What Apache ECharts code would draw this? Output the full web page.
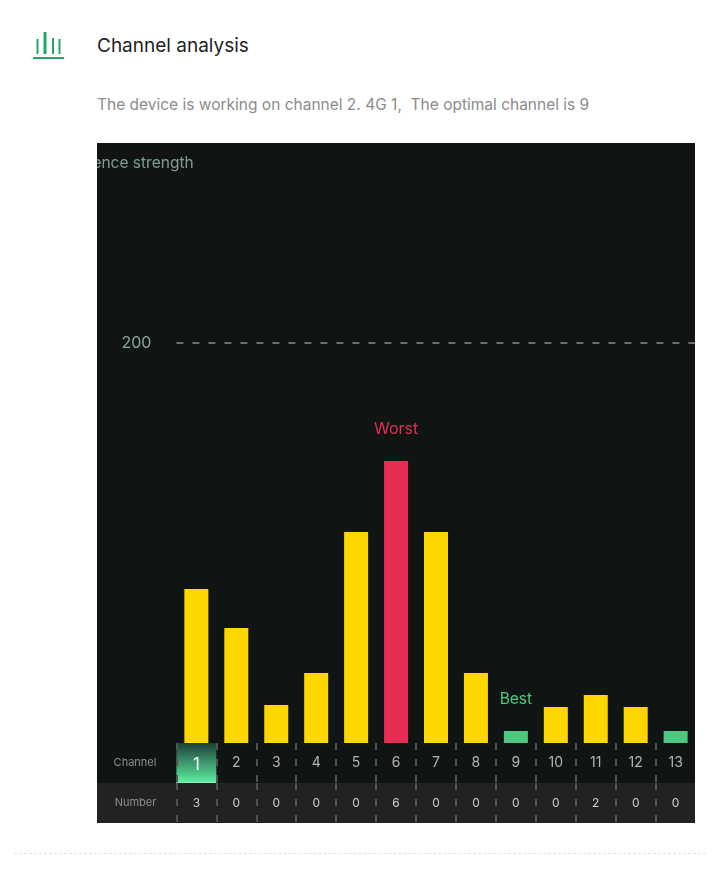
<!DOCTYPE html>
<html>
<head>
<meta charset="utf-8">
<title>Channel analysis</title>
<script src="https://cdn.jsdelivr.net/npm/echarts@6/dist/echarts.min.js"></script>
<style>
  html, body { margin: 0; background: #fff; }
  body { position: relative; width: 720px; height: 872px; overflow: hidden; font-family: Inter, sans-serif; }
  .icon { position: absolute; left: 33px; top: 32px; }
  .title { position: absolute; left: 97px; top: 34px; font-size: 19px; line-height: 24px; color: #222; white-space: pre; }
  .desc { position: absolute; left: 97px; top: 95px; font-size: 15.5px; line-height: 20px; color: #8c8c8c; white-space: pre; }
  #chart { position: absolute; left: 97px; top: 143px; width: 598px; height: 680px; }
  .rule { position: absolute; left: 14px; top: 853px; width: 692px; border-top: 1px dashed #e2e2e2; }
</style>
</head>
<body>
<svg class="icon" width="32" height="28" viewBox="0 0 32 28">
  <g fill="#23a566">
    <rect x="3.5" y="7" width="2" height="15"/>
    <rect x="10.5" y="0" width="3" height="22"/>
    <rect x="19" y="6" width="2" height="16"/>
    <rect x="25.5" y="7" width="2" height="15"/>
    <rect x="0" y="25" width="31" height="2"/>
  </g>
</svg>
<div class="title">Channel analysis</div>
<div class="desc">The device is working on channel 2. 4G 1,  The optimal channel is 9</div>
<div id="chart"></div>
<div class="rule"></div>
<script>
const channels = ['1', '2', '3', '4', '5', '6', '7', '8', '9', '10', '11', '12', '13']
const strength = [77, 57.5, 19, 35, 105.5, 141, 105.5, 35, 6, 18, 24, 18, 6]
const numbers = ['3', '0', '0', '0', '0', '6', '0', '0', '0', '0', '2', '0', '0']
const worstChannels = ['6']
const bestChannels = ['9', '13']
const worstLabelChannel = '6'
const bestLabelChannel = '9'
const currentChannel = '1'

const fontFamily = 'Inter, sans-serif'
const tickStyle = { show: true, inside: true, length: 40, lineStyle: { color: '#505351', width: 2, type: [7, 9] } }

const barData = channels.map((name, i) => {
  let color = '#FFD700'
  if (worstChannels.includes(name)) color = '#E62E54'
  if (bestChannels.includes(name)) color = '#4CC97E'
  const item = { value: strength[i], itemStyle: { color } }
  if (name === worstLabelChannel) {
    item.label = { show: true, position: 'top', distance: 24, formatter: 'Worst', color: '#E62E54', fontSize: 16, fontFamily }
  }
  if (name === bestLabelChannel) {
    item.label = { show: true, position: 'top', distance: 24, formatter: 'Best', color: '#4CC97E', fontSize: 15.5, fontFamily }
  }
  return item
})

const channelAxisData = channels.map(name => {
  if (name === currentChannel) {
    return { value: name, textStyle: { color: '#fff', fontSize: 17 } }
  }
  return name
})

const myChart = echarts.init(document.getElementById('chart'))

myChart.setOption({
  backgroundColor: '#101513',
  animation: false,
  graphic: [
    // 底部 Number 行的灰色背景
    { type: 'rect', z: -1, shape: { x: 0, y: 640, width: 598, height: 40 }, style: { fill: '#212222' } }
  ],
  grid: [
    { left: 79.4, right: -0.6, top: 40, height: 560, outerBoundsMode: 'none' },
    { left: 79.4, right: -0.6, top: 600, height: 40, outerBoundsMode: 'none' },
    { left: 79.4, right: -0.6, top: 640, height: 40, outerBoundsMode: 'none' }
  ],
  xAxis: [
    {
      gridIndex: 0,
      type: 'category',
      data: channels,
      axisLine: { show: false },
      axisTick: { show: false },
      axisLabel: { show: false }
    },
    {
      gridIndex: 1,
      type: 'category',
      position: 'top',
      z: 5,
      data: channelAxisData,
      axisLine: { show: false, onZero: false },
      axisTick: tickStyle,
      axisLabel: { inside: true, margin: 13, interval: 0, color: '#b4b4b2', fontSize: 14, fontFamily }
    },
    {
      gridIndex: 2,
      type: 'category',
      position: 'top',
      data: channels,
      axisLine: { show: false, onZero: false },
      axisTick: tickStyle,
      axisLabel: {
        inside: true,
        margin: 14,
        interval: 0,
        color: '#d6cfcb',
        fontSize: 12,
        fontFamily,
        formatter: (v, i) => numbers[i]
      }
    }
  ],
  yAxis: [
    {
      gridIndex: 0,
      type: 'value',
      min: 0,
      max: 280,
      interval: 200,
      name: 'Interference strength',
      nameLocation: 'end',
      nameGap: 12,
      nameTextStyle: { color: '#7d9e98', fontSize: 15.5, fontFamily, align: 'center', padding: [0, 120, 0, 0] },
      axisLine: { show: false },
      axisTick: { show: false },
      axisLabel: {
        margin: 25,
        color: '#8aa5a0',
        fontSize: 16,
        fontFamily,
        formatter: v => (v === 200 ? '200' : '')
      },
      splitLine: {
        show: true,
        showMinLine: false,
        showMaxLine: false,
        lineStyle: { color: '#6a6f6d', width: 2, type: [7, 9] }
      }
    },
    {
      gridIndex: 1,
      type: 'value',
      min: 0,
      max: 1,
      name: 'Channel',
      nameLocation: 'middle',
      nameRotate: 0,
      nameGap: 20,
      nameTextStyle: { color: '#8f8f8d', fontSize: 11, fontFamily },
      axisLine: { show: false },
      axisTick: { show: false },
      axisLabel: { show: false },
      splitLine: { show: false }
    },
    {
      gridIndex: 2,
      type: 'value',
      min: 0,
      max: 1,
      name: 'Number',
      nameLocation: 'middle',
      nameRotate: 0,
      nameGap: 20,
      nameTextStyle: { color: '#8f8f8d', fontSize: 11, fontFamily },
      axisLine: { show: false },
      axisTick: { show: false },
      axisLabel: { show: false },
      splitLine: { show: false }
    }
  ],
  series: [
    {
      type: 'bar',
      xAxisIndex: 0,
      yAxisIndex: 0,
      barWidth: 24,
      data: barData
    },
    {
      // 当前工作信道高亮
      type: 'bar',
      xAxisIndex: 1,
      yAxisIndex: 1,
      barWidth: '100%',
      data: channels.map(name => (name === currentChannel ? 1 : '-')),
      itemStyle: {
        color: new echarts.graphic.LinearGradient(0, 0, 0, 1, [
          { offset: 0, color: '#1b3f3a' },
          { offset: 0.95, color: '#5ce89c' },
          { offset: 1, color: '#8df0b8' }
        ])
      }
    }
  ]
})
</script>
</body>
</html>
